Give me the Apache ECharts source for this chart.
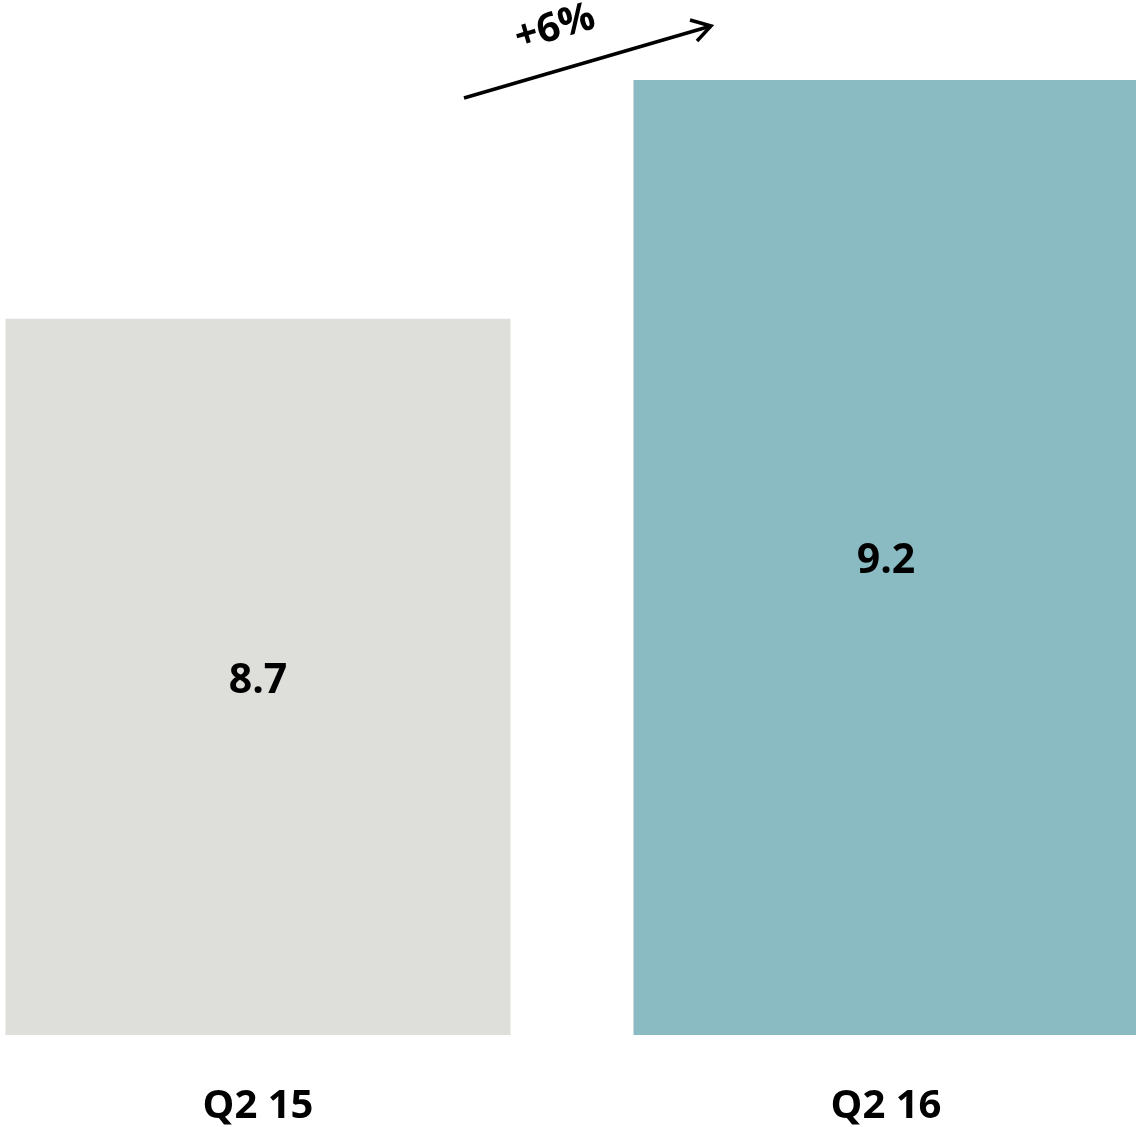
<!DOCTYPE html>
<html>
<head>
<meta charset="utf-8">
<script src="https://cdn.jsdelivr.net/npm/echarts@6/dist/echarts.min.js"></script>
<style>
  html, body { margin: 0; padding: 0; background: #fff; }
  #chart { width: 1136px; height: 1127px; }
</style>
</head>
<body>
<div id="chart"></div>
<script>
// Quarterly values, one bar per period
const categories = ['Q2 15', 'Q2 16'];
const values = [8.7, 9.2];
const barColors = ['#DEDEDA', '#8ABAC2'];
const changeLabel = '+6%';

const FONT = '"Open Sans", "Liberation Sans", sans-serif';

const chart = echarts.init(document.getElementById('chart'), null, { renderer: 'canvas' });

chart.setOption({
  animation: false,
  backgroundColor: '#ffffff',
  grid: {
    left: -56, right: -64, top: 80, bottom: 92,
    containLabel: false,
    outerBoundsMode: 'none'
  },
  xAxis: {
    type: 'category',
    data: categories,
    axisLine: { show: false },
    axisTick: { show: false },
    axisLabel: {
      margin: 52,
      color: '#000',
      fontFamily: FONT,
      fontWeight: 'bold',
      fontSize: 40
    }
  },
  yAxis: {
    type: 'value',
    min: 7.2,
    max: 9.2,
    show: false,
    splitLine: { show: false }
  },
  series: [{
    type: 'bar',
    barWidth: 505,
    data: values.map((v, i) => ({ value: v, itemStyle: { color: barColors[i] } })),
    label: {
      show: true,
      position: 'inside',
      offset: [0, 4],
      color: '#000',
      fontFamily: FONT,
      fontWeight: 'bold',
      fontSize: 41,
      formatter: p => p.value.toFixed(1)
    }
  }],
  graphic: [
    {
      type: 'group',
      silent: true,
      children: [
        {
          type: 'line',
          shape: { x1: 464, y1: 98, x2: 711, y2: 26 },
          style: { stroke: '#000', lineWidth: 3.5 }
        },
        {
          type: 'polyline',
          shape: { points: [[690, 20], [711, 26], [697, 41]] },
          style: { stroke: '#000', lineWidth: 3.5, fill: null, lineJoin: 'miter' }
        },
        {
          type: 'text',
          x: 555,
          y: 28,
          rotation: 16.2 * Math.PI / 180,
          style: {
            text: changeLabel,
            fill: '#000',
            fontFamily: FONT,
            fontWeight: 'bold',
            fontSize: 40,
            align: 'center',
            verticalAlign: 'middle'
          }
        }
      ]
    }
  ]
});
</script>
</body>
</html>
